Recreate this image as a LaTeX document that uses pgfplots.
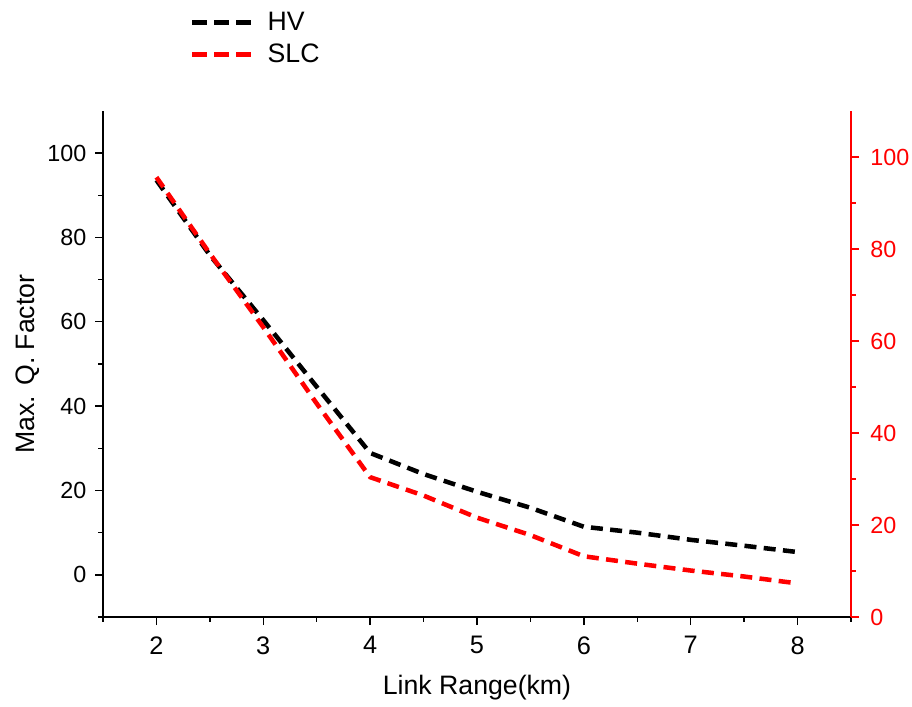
\documentclass[border=0pt]{standalone}
\usepackage{fontspec}
\setmainfont{Liberation Sans}
\usepackage{pgfplots}
\pgfplotsset{compat=1.18}

\definecolor{qred}{RGB}{255,0,0}

\pgfplotsset{
  qbase/.style={
    scale only axis,
    width=561pt, height=379.5pt,
    at={(77.25pt,66.75pt)}, anchor=south west,
    xmin=1.5, xmax=8.5,
    tick align=outside,
    major tick length=6pt,
    minor tick length=3.5pt,
    every tick/.style={line width=1pt},
    /pgf/number format/assume math mode=true,
    tick label style={font=\fontsize{17.5}{20}\selectfont},
    xticklabel style={font=\fontsize{19}{22}\selectfont, yshift=-5pt},
  },
  qline/.style={line width=3.4pt, dash pattern=on 9pt off 5.5pt, mark=none},
}

\begin{document}
\begin{tikzpicture}
\useasboundingbox (0,0) rectangle (684pt,529.5pt);

% left axis, HV
\begin{axis}[
  qbase,
  axis x line*=bottom,
  axis y line*=left,
  axis line style={line width=1.2pt, black},
  yticklabel style={xshift=-3pt},
  ymin=-10, ymax=110,
  ytick={0,20,40,60,80,100},
  minor ytick={-10,10,30,50,70,90},
  xtick={2,3,4,5,6,7,8},
  minor xtick={1.5,2.5,3.5,4.5,5.5,6.5,7.5,8.5},
  ylabel={Max. Q. Factor},
  xlabel={Link Range(km)},
  ylabel style={at={(axis description cs:-0.1,0.5)}, anchor=center,
    font=\fontsize{20}{24}\selectfont},
  xlabel style={at={(axis description cs:0.5,-0.14)}, anchor=center,
    font=\fontsize{20}{24}\selectfont},
  legend style={at={(axis description cs:0.11,1.207)}, anchor=north west,
    draw=none, fill=none, font=\fontsize{20}{24}\selectfont,
    row sep=5pt},
  legend cell align=left,
  legend image code/.code={
    \draw[#1, line width=3.75pt, dash pattern=on 11pt off 5.5pt] (0pt,0pt) -- (44pt,0pt);
    \path (53pt,0pt);
  },
]
\addplot[qline, black] coordinates {
  (2,93.6) (2.5,75.8) (3,60.4) (3.5,44.6) (4,28.9) (4.5,23.9) (5,19.7)
  (5.5,15.9) (6,11.4) (6.5,10.0) (7,8.3) (7.5,6.9) (8,5.4)
};
\addlegendentry{HV}
\addlegendimage{qline, qred}
\addlegendentry{SLC}
\end{axis}

% right axis, SLC
\begin{axis}[
  qbase,
  axis x line=none,
  axis y line*=right,
  axis line style={line width=1.2pt, qred},
  y tick style={qred},
  yticklabel style={qred, xshift=5pt},
  ymin=0, ymax=110,
  ytick={0,20,40,60,80,100},
  minor ytick={10,30,50,70,90},
]
\addplot[qline, qred] coordinates {
  (2,95.6) (2.5,79.0) (3,63.0) (3.5,46.4) (4,30.4) (4.5,26.4) (5,21.6)
  (5.5,17.8) (6,13.2) (6.5,11.6) (7,10.1) (7.5,8.8) (8,7.3)
};
\end{axis}
\end{tikzpicture}
\end{document}
